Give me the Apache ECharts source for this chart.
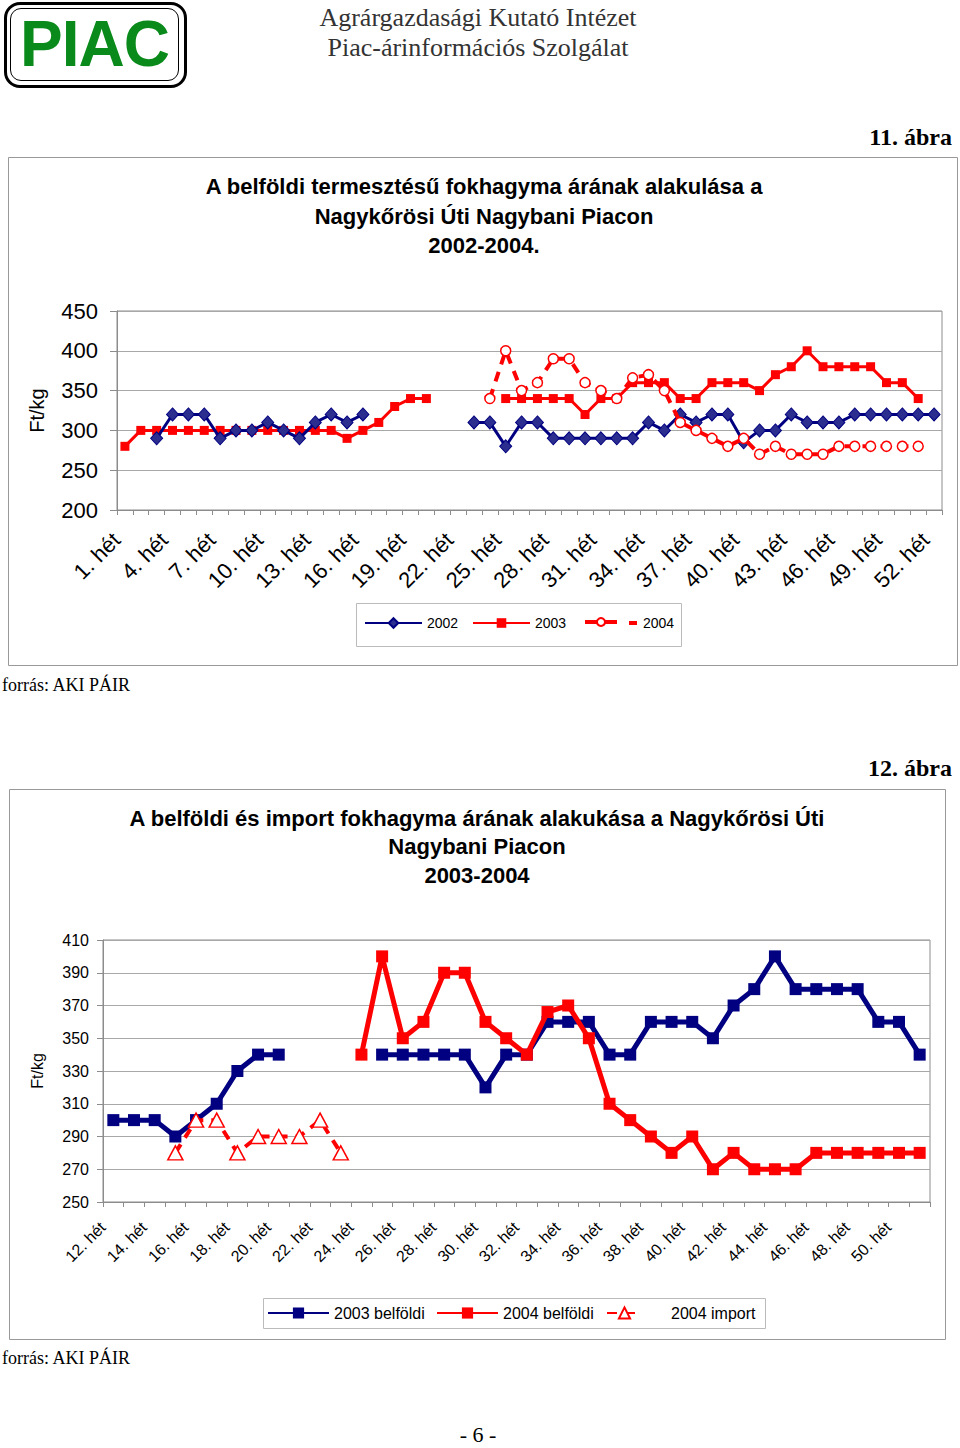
<!DOCTYPE html>
<html>
<head>
<meta charset="utf-8">
<script src="https://cdn.jsdelivr.net/npm/echarts@6/dist/echarts.min.js"></script>
<style>
  html,body{margin:0;padding:0;background:#fff;}
  body{width:960px;height:1448px;position:relative;overflow:hidden;}
  .t{position:absolute;white-space:nowrap;font-family:"Liberation Serif","Times New Roman",serif;color:#000;}
</style>
</head>
<body>
<div id="chart" style="position:absolute;left:0;top:0;width:960px;height:1448px;"></div>

<div style="position:absolute;left:4px;top:2px;width:177px;height:80px;border:3px solid #000;border-radius:16px;"></div>
<div style="position:absolute;left:10px;top:8px;width:167px;height:71px;border:1px solid #000;border-radius:11px;"></div>
<div style="position:absolute;left:10px;top:8px;width:169px;height:73px;line-height:73px;text-align:center;font-family:'Liberation Sans',Arial,sans-serif;font-weight:bold;font-size:64px;color:#0a8a1a;letter-spacing:-1px;">PIAC</div>

<div class="t" style="left:278px;width:400px;text-align:center;top:3px;font-size:26px;line-height:30px;color:#333;">Agrárgazdasági Kutató Intézet</div>
<div class="t" style="left:278px;width:400px;text-align:center;top:33px;font-size:26px;line-height:30px;color:#333;">Piac-árinformációs Szolgálat</div>

<div class="t" style="right:8px;top:124px;font-size:24px;line-height:26px;font-weight:bold;">11. ábra</div>
<div class="t" style="left:2px;top:674px;font-size:18px;line-height:22px;">forrás: AKI PÁIR</div>
<div class="t" style="right:8px;top:755px;font-size:24px;line-height:26px;font-weight:bold;">12. ábra</div>
<div class="t" style="left:2px;top:1347px;font-size:18px;line-height:22px;">forrás: AKI PÁIR</div>
<div class="t" style="left:428px;width:100px;text-align:center;top:1424px;font-size:22px;line-height:22px;">- 6 -</div>

<script>
// ---------- Chart 11: weeks 1..52 ----------
const topWeekNumbers = [1,2,3,4,5,6,7,8,9,10,11,12,13,14,15,16,17,18,19,20,21,22,23,24,25,26,27,28,29,30,31,32,33,34,35,36,37,38,39,40,41,42,43,44,45,46,47,48,49,50,51,52];
const topCategories = topWeekNumbers.map(w => w + '. hét');
const top2002 = [null,null,290,320,320,320,290,300,300,310,300,290,310,320,310,320,null,null,null,null,null,null,310,310,280,310,310,290,290,290,290,290,290,310,300,320,310,320,320,285,300,300,320,310,310,310,320,320,320,320,320,320];
const top2003 = [280,300,300,300,300,300,300,300,300,300,300,300,300,300,290,300,310,330,340,340,null,null,null,null,340,340,340,340,340,320,340,340,360,360,360,340,340,360,360,360,350,370,380,400,380,380,380,380,360,360,340,null];
const top2004 = [null,null,null,null,null,null,null,null,null,null,null,null,null,null,null,null,null,null,null,null,null,null,null,340,400,350,360,390,390,360,350,340,366,370,350,310,300,290,280,290,270,280,270,270,270,280,280,280,280,280,280,null];
const topYTicks = {min:200, max:450, interval:50};

// ---------- Chart 12: weeks 12..51 ----------
const botWeekNumbers = [12,13,14,15,16,17,18,19,20,21,22,23,24,25,26,27,28,29,30,31,32,33,34,35,36,37,38,39,40,41,42,43,44,45,46,47,48,49,50,51];
const botCategories = botWeekNumbers.map(w => w + '. hét');
const bot2003Belfoldi = [300,300,300,290,300,310,330,340,340,null,null,null,null,340,340,340,340,340,320,340,340,360,360,360,340,340,360,360,360,350,370,380,400,380,380,380,380,360,360,340];
const bot2004Belfoldi = [null,null,null,null,null,null,null,null,null,null,null,null,340,400,350,360,390,390,360,350,340,366,370,350,310,300,290,280,290,270,280,270,270,270,280,280,280,280,280,280];
const bot2004Import = [null,null,null,280,300,300,280,290,290,290,300,280,null,null,null,null,null,null,null,null,null,null,null,null,null,null,null,null,null,null,null,null,null,null,null,null,null,null,null,null];
const botYTicks = {min:250, max:410, interval:20};

const SANS = '"Liberation Sans", Arial, sans-serif';
const NAVY = '#000080';
const RED = '#ff0000';
const GRID = '#a8a8a8';
const AXIS = '#8c8c8c';

const chart = echarts.init(document.getElementById('chart'), null, {renderer:'svg', width:960, height:1448});

const option = {
  animation:false,
  backgroundColor:'transparent',
  textStyle:{fontFamily:SANS, color:'#000'},
  grid:[
    {left:117, top:311, width:825, height:199, show:true, borderColor:AXIS, borderWidth:1, containLabel:false},
    {left:103, top:940, width:827, height:262, show:true, borderColor:AXIS, borderWidth:1, containLabel:false}
  ],
  xAxis:[
    {type:'category', gridIndex:0, data:topCategories, boundaryGap:true,
     axisLine:{lineStyle:{color:AXIS}},
     axisTick:{show:true, interval:0, length:5, lineStyle:{color:AXIS}},
     axisLabel:{interval:2, rotate:45, fontSize:22, color:'#000', margin:18, padding:[0,12,0,0], fontFamily:SANS}},
    {type:'category', gridIndex:1, data:botCategories, boundaryGap:true,
     axisLine:{lineStyle:{color:AXIS}},
     axisTick:{show:true, interval:0, length:5, lineStyle:{color:AXIS}},
     axisLabel:{interval:1, rotate:45, fontSize:16, color:'#000', margin:12, padding:[0,15,0,0], fontFamily:SANS}}
  ],
  yAxis:[
    {type:'value', gridIndex:0, min:topYTicks.min, max:topYTicks.max, interval:topYTicks.interval,
     axisLine:{show:true, lineStyle:{color:AXIS}},
     axisTick:{show:true, length:7, lineStyle:{color:AXIS}},
     axisLabel:{fontSize:22, color:'#000', margin:19, fontFamily:SANS},
     splitLine:{show:true, lineStyle:{color:GRID}},
     name:'Ft/kg', nameLocation:'middle', nameGap:70,
     nameTextStyle:{fontSize:20, color:'#000', fontFamily:SANS}},
    {type:'value', gridIndex:1, min:botYTicks.min, max:botYTicks.max, interval:botYTicks.interval,
     axisLine:{show:true, lineStyle:{color:AXIS}},
     axisTick:{show:true, length:6, lineStyle:{color:AXIS}},
     axisLabel:{fontSize:16, color:'#000', margin:14, fontFamily:SANS},
     splitLine:{show:true, lineStyle:{color:GRID}},
     name:'Ft/kg', nameLocation:'middle', nameGap:58,
     nameTextStyle:{fontSize:16, color:'#000', fontFamily:SANS}}
  ],
  legend:[
    {data:['2002'], left:364, top:616, itemWidth:57, itemHeight:12, padding:0,
     textStyle:{fontSize:14, color:'#000', fontFamily:SANS}},
    {data:['2003'], left:472, top:616, itemWidth:57, itemHeight:12, padding:0,
     textStyle:{fontSize:14, color:'#000', fontFamily:SANS}},
    {data:[{name:'2004', lineStyle:{type:'solid', width:4}}], left:583, top:617, itemWidth:32, itemHeight:10, padding:0,
     formatter:function(){return '';}, textStyle:{fontSize:14}},
    {data:[{name:'2004', icon:'rect', itemStyle:{color:RED, borderWidth:0}}], left:629, top:616, itemWidth:8, itemHeight:4, padding:0,
     textStyle:{fontSize:14, color:'#000', fontFamily:SANS, padding:[0,0,0,1]}},
    {data:['2003 belföldi'], left:267, top:1305, itemWidth:61, itemHeight:14, padding:0,
     textStyle:{fontSize:16, color:'#000', fontFamily:SANS}},
    {data:['2004 belföldi'], left:436, top:1305, itemWidth:61, itemHeight:14, padding:0,
     textStyle:{fontSize:16, color:'#000', fontFamily:SANS}},
    {data:['2004 import'], left:606, top:1305, itemWidth:35, itemHeight:14, padding:0,
     textStyle:{fontSize:16, color:'#000', fontFamily:SANS, padding:[0,0,0,24]}}
  ],
  graphic:[
    {type:'rect', silent:true, z:-10, shape:{x:8.5, y:157.5, width:949, height:508}, style:{fill:'none', stroke:'#999', lineWidth:1}},
    {type:'rect', silent:true, z:-10, shape:{x:356.5, y:603.5, width:325, height:43}, style:{fill:'none', stroke:'#bbb', lineWidth:1}},
    {type:'text', silent:true, x:484, y:172, style:{text:'A belföldi termesztésű fokhagyma árának alakulása a\nNagykőrösi Úti Nagybani Piacon\n2002-2004.', font:'bold 22px "Liberation Sans", Arial, sans-serif', textAlign:'center', textVerticalAlign:'top', lineHeight:29.5, fill:'#000'}},
    {type:'rect', silent:true, z:-10, shape:{x:9.5, y:789.5, width:936, height:550}, style:{fill:'none', stroke:'#999', lineWidth:1}},
    {type:'rect', silent:true, z:-10, shape:{x:263.5, y:1298.5, width:502, height:30}, style:{fill:'none', stroke:'#bbb', lineWidth:1}},
    {type:'text', silent:true, x:477, y:804, style:{text:'A belföldi és import fokhagyma árának alakukása a Nagykőrösi Úti\nNagybani Piacon\n2003-2004', font:'bold 22px "Liberation Sans", Arial, sans-serif', textAlign:'center', textVerticalAlign:'top', lineHeight:28.5, fill:'#000'}}
  ],
  series:[
    {name:'2002', type:'line', xAxisIndex:0, yAxisIndex:0, data:top2002, connectNulls:false, showAllSymbol:true,
     symbol:'diamond', symbolSize:[12,13], lineStyle:{color:NAVY, width:3},
     itemStyle:{color:'#2b2e8f', borderColor:NAVY, borderWidth:1}, z:3},
    {name:'2003', type:'line', xAxisIndex:0, yAxisIndex:0, data:top2003, connectNulls:false, showAllSymbol:true,
     symbol:'rect', symbolSize:9, lineStyle:{color:RED, width:3},
     itemStyle:{color:RED, borderColor:RED, borderWidth:0}, z:2},
    {name:'2004', type:'line', xAxisIndex:0, yAxisIndex:0, data:top2004, connectNulls:false, showAllSymbol:true,
     symbol:'circle', symbolSize:10, lineStyle:{color:RED, width:4, type:[10,8]},
     itemStyle:{color:'#fff', borderColor:RED, borderWidth:1.5}, z:4},
    {name:'2003 belföldi', type:'line', xAxisIndex:1, yAxisIndex:1, data:bot2003Belfoldi, connectNulls:false, showAllSymbol:true,
     symbol:'rect', symbolSize:12, lineStyle:{color:NAVY, width:5},
     itemStyle:{color:NAVY, borderWidth:0}, z:2},
    {name:'2004 belföldi', type:'line', xAxisIndex:1, yAxisIndex:1, data:bot2004Belfoldi, connectNulls:false, showAllSymbol:true,
     symbol:'rect', symbolSize:12, lineStyle:{color:RED, width:5},
     itemStyle:{color:RED, borderWidth:0}, z:3},
    {name:'2004 import', type:'line', xAxisIndex:1, yAxisIndex:1, data:bot2004Import, connectNulls:false, showAllSymbol:true,
     symbol:'triangle', symbolSize:[15,14], lineStyle:{color:RED, width:4, type:[10,8]},
     itemStyle:{color:'#fff', borderColor:RED, borderWidth:1.5}, z:4}
  ]
};
chart.setOption(option);
</script>
</body>
</html>
